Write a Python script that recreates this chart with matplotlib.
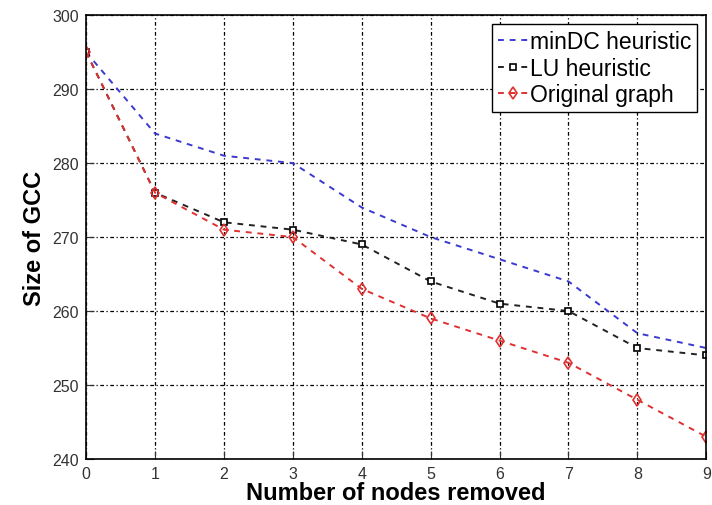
import matplotlib.pyplot as plt

plt.rcParams['font.family'] = ['Liberation Sans', 'DejaVu Sans']

nodes_removed = [0, 1, 2, 3, 4, 5, 6, 7, 8, 9]
mindc = [295, 284, 281, 280, 274, 270, 267, 264, 257, 255]
lu = [295, 276, 272, 271, 269, 264, 261, 260, 255, 254]
original = [295, 276, 271, 270, 263, 259, 256, 253, 248, 243]

fig = plt.figure(figsize=(7.12, 5.06), dpi=100)
ax = fig.add_axes([0.121, 0.091, 0.871, 0.877])

ax.plot(nodes_removed, mindc, '--', color='#3a3ad0', lw=1.4, dashes=(3, 3),
        label='minDC heuristic')
ax.plot(nodes_removed, lu, '--s', color='#222222', lw=1.4, dashes=(3, 3),
        markersize=5, markerfacecolor='white', markeredgecolor='black',
        markeredgewidth=1.2, label='LU heuristic')
ax.plot(nodes_removed, original, '--d', color='#e03030', lw=1.4, dashes=(3, 3),
        markersize=6, markerfacecolor='none', markeredgecolor='#e03030',
        markeredgewidth=1.2, label='Original graph')

ax.set_xlim(0, 9)
ax.set_ylim(240, 300)
ax.set_xticks(nodes_removed)
ax.set_yticks(range(240, 301, 10))
ax.grid(True, color='black', linestyle=(0, (1, 2, 3, 2)), lw=0.9)
ax.tick_params(labelsize=11.5, colors='#333333', direction='in', length=6,
               pad=5)
for s in ax.spines.values():
    s.set_linewidth(1.2)

ax.set_xlabel('Number of nodes removed', fontsize=17, fontweight='bold',
              labelpad=0)
ax.set_ylabel('Size of GCC', fontsize=17, fontweight='bold', labelpad=5)

leg = ax.legend(loc='upper right', fontsize=16.5, handlelength=1.3,
                handletextpad=0.1, borderpad=0.25, labelspacing=0.15,
                borderaxespad=0.4, fancybox=False, edgecolor='black',
                framealpha=1)
leg.get_frame().set_linewidth(1.0)

fig.savefig('out.png', dpi=100)
